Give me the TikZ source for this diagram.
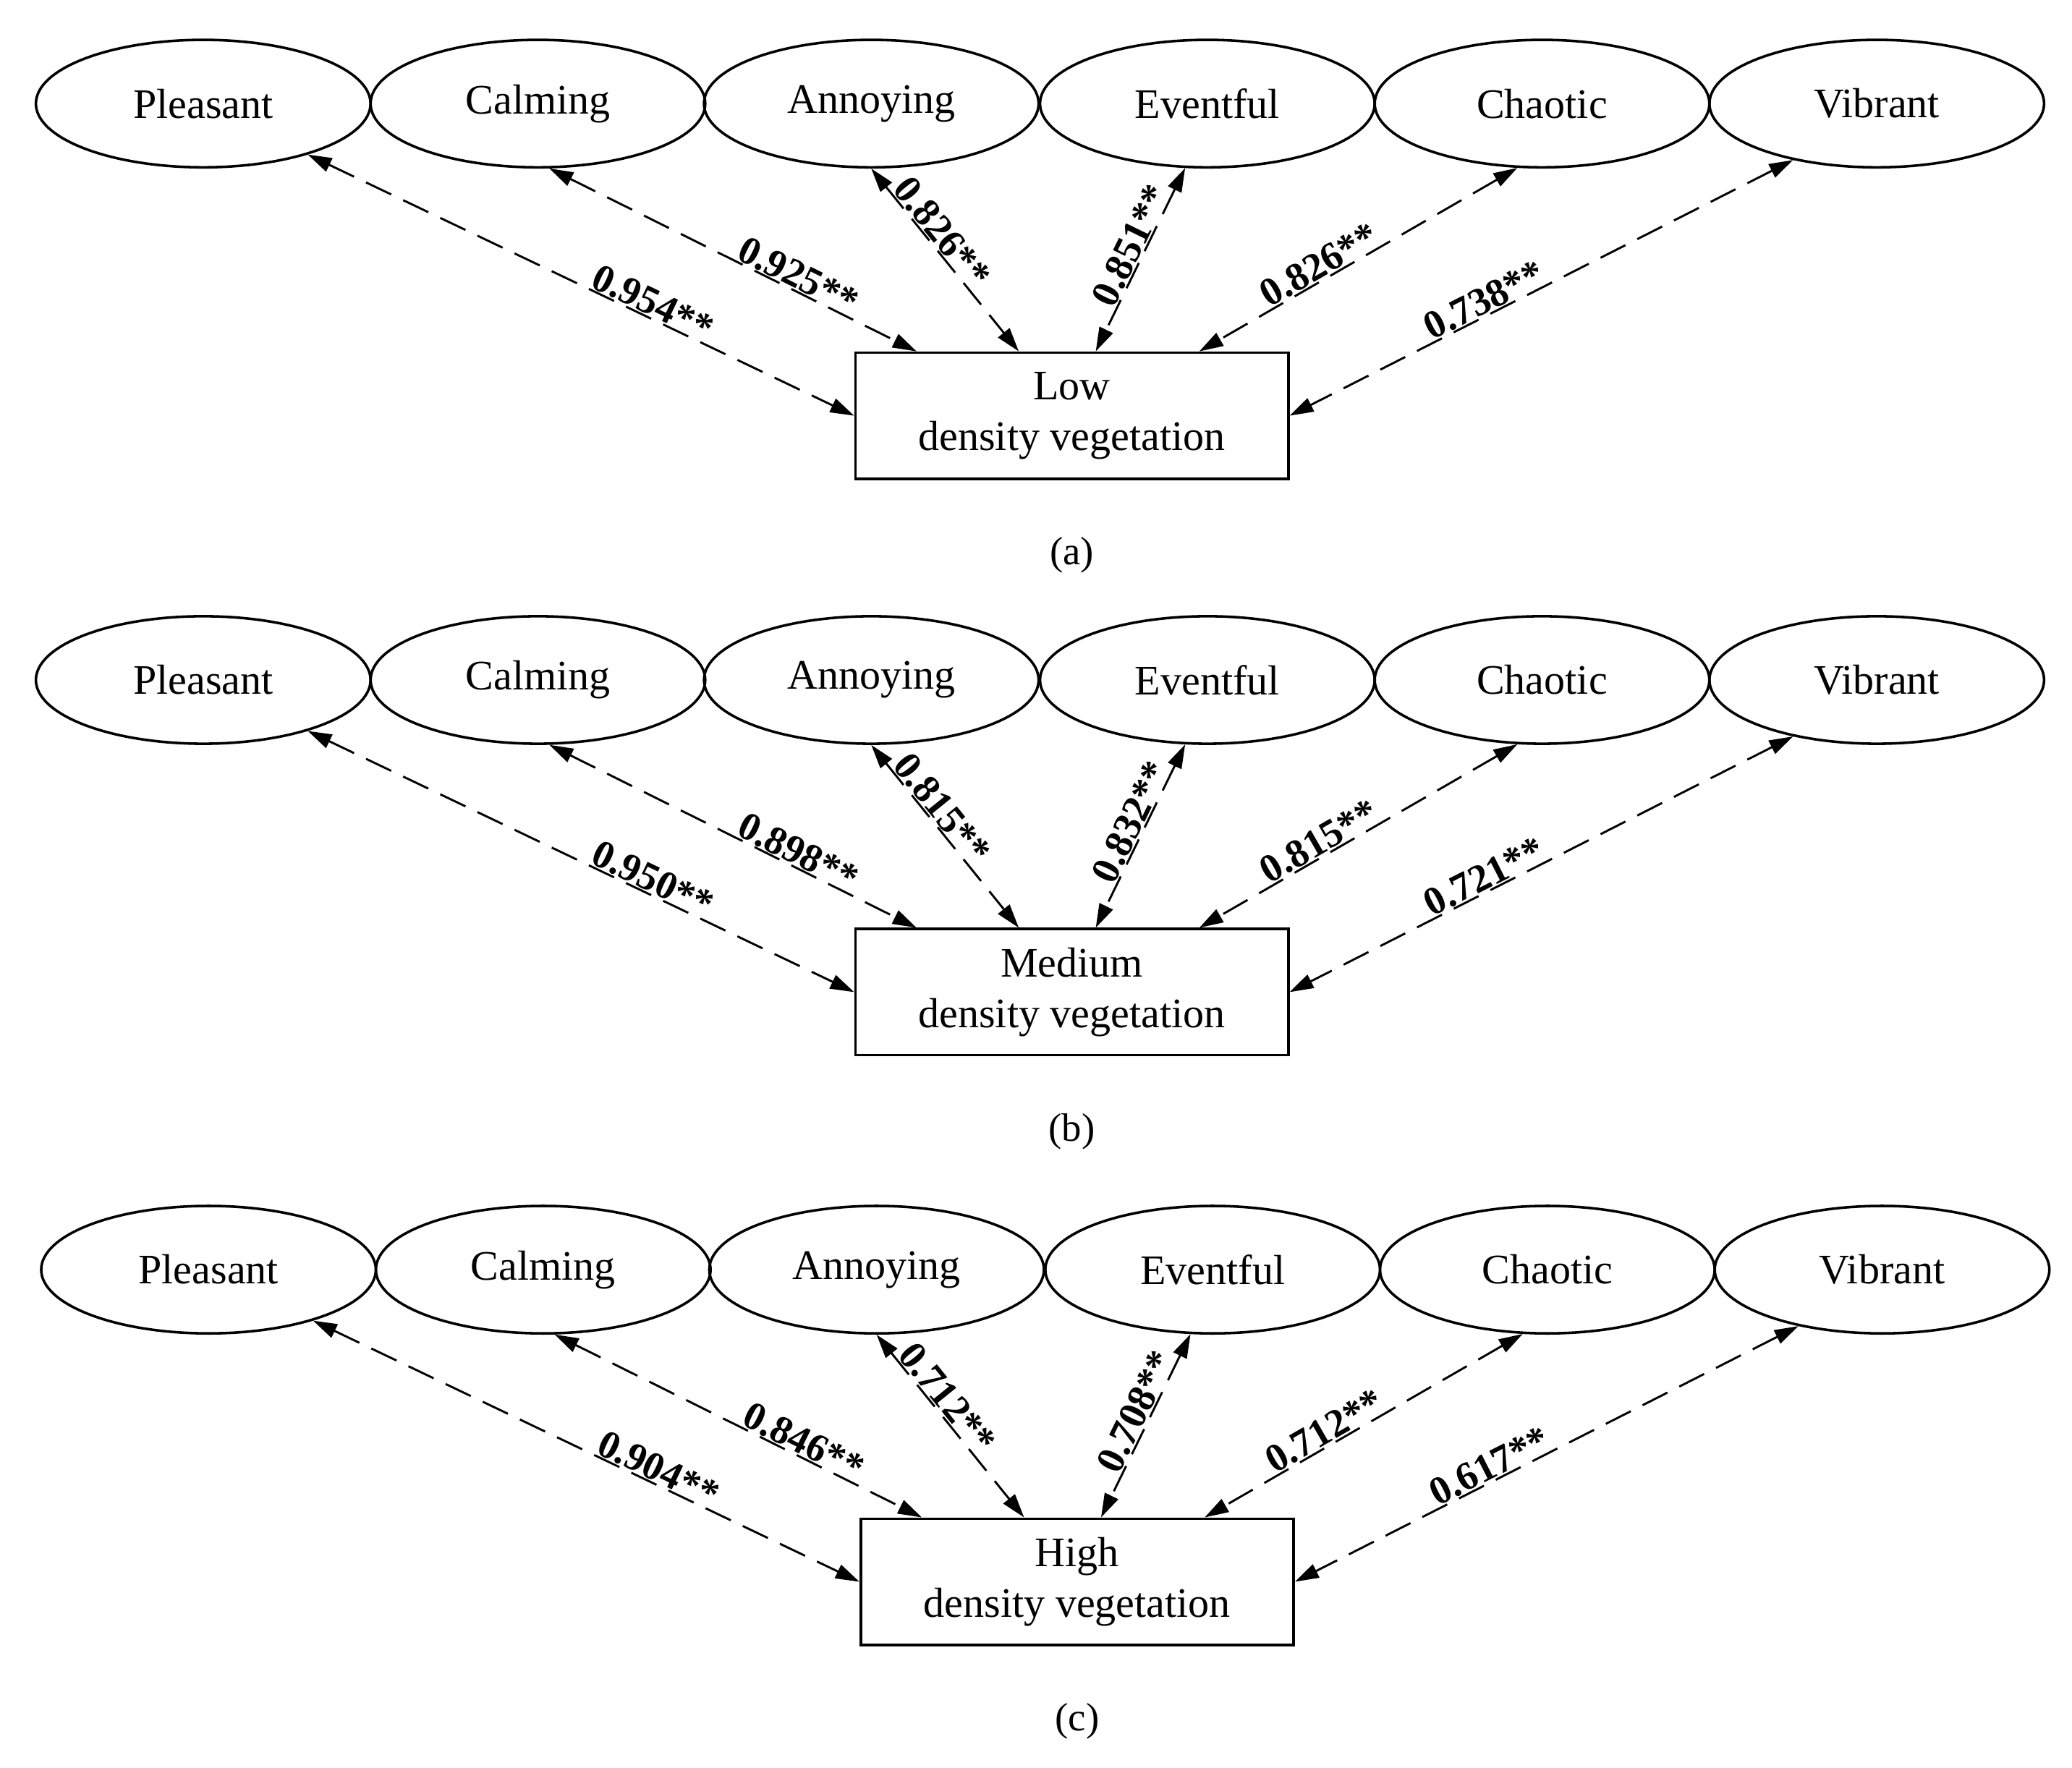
\documentclass[tikz,border=0pt]{standalone}
\usepackage{fontspec}
\setmainfont{Liberation Serif}
\usetikzlibrary{arrows.meta,shapes.geometric}
\tikzset{
 el/.style={draw,line width=1.1pt,ellipse,minimum width=5.04cm,minimum height=1.92cm,inner sep=0pt,font=\fontsize{18}{21.6}\selectfont},
 bx/.style={draw,line width=1.1pt,minimum width=6.52cm,minimum height=1.9cm,align=center,font=\fontsize{18}{21.6}\selectfont},
 con/.style={line width=0.9pt,dash pattern=on 0.42cm off 0.2cm,{Triangle[length=0.36cm,width=0.22cm]}-{Triangle[length=0.36cm,width=0.22cm]}},
 lb/.style={sloped,above=-3pt,font=\fontsize{17}{20}\bfseries\selectfont},
 captxt/.style={font=\fontsize{17}{20}\selectfont}
}
\newcommand\mypanel[9]{%
\begin{scope}[shift={(#2,#1)}]
\node[el] (P#4) at (153,78) {Pleasant};
\node[el] (C#4) at (405,78) {Calming};
\node[el] (A#4) at (656,78) {Annoying};
\node[el] (E#4) at (909,78) {Eventful};
\node[el] (H#4) at (1161,78) {Chaotic};
\node[el] (V#4) at (1413,78) {Vibrant};
\node[bx] (B#4) at (807,313) {#3\\density vegetation};
\node[captxt] (cap#4) at (807,418) {(#4)};
\draw[con] (P#4.-26) -- node[lb,pos=0.62]{#5} (B#4.west);
\draw[con] (C#4.-80) -- node[lb,pos=0.66]{#6} ([xshift=-2.34cm]B#4.north);
\draw[con] (A#4.-90) -- node[lb,pos=0.4]{#7} ([xshift=-0.8cm]B#4.north);
\draw[con] (E#4.-109) -- node[lb,pos=0.46]{#8} ([xshift=0.36cm]B#4.north);
\draw[con] (H#4.-111) -- node[lb,pos=0.6]{#9} ([xshift=1.92cm]B#4.north);
\draw[con] (V#4.-146) -- node[lb,pos=0.6]{\labF} (B#4.east);
\end{scope}}
\begin{document}
\begin{tikzpicture}[x=0.02cm,y=-0.02cm]
\useasboundingbox (0,0) rectangle (1560,1331);
\def\labF{0.738**}
\mypanel{0}{0}{Low}{a}{0.954**}{0.925**}{0.826**}{0.851**}{0.826**}
\def\labF{0.721**}
\mypanel{434}{0}{Medium}{b}{0.950**}{0.898**}{0.815**}{0.832**}{0.815**}
\def\labF{0.617**}
\mypanel{878}{4}{High}{c}{0.904**}{0.846**}{0.712**}{0.708**}{0.712**}
\end{tikzpicture}
\end{document}
